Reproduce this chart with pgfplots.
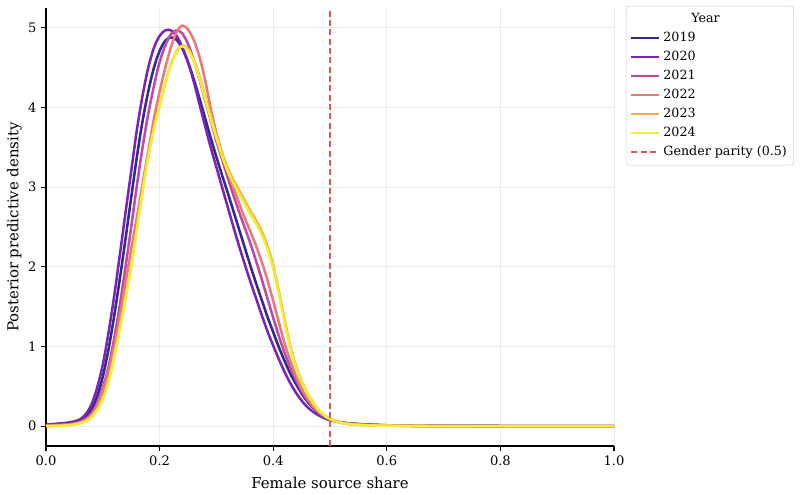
\documentclass[border=0pt]{standalone}
\usepackage{fontspec}
\setmainfont{DejaVu Serif}
\usepackage{pgfplots}
\usepackage{pgfplotstable}
\pgfplotsset{compat=1.18}
\definecolor{c19}{HTML}{2E2A8F}
\definecolor{c20}{HTML}{7B22B8}
\definecolor{c21}{HTML}{BE4AA2}
\definecolor{c22}{HTML}{E87A7A}
\definecolor{c23}{HTML}{F8AB4C}
\definecolor{c24}{HTML}{F0F032}
\definecolor{cpar}{HTML}{E85555}
\pgfplotstableread{
x y19 y20 y21 y22 y23 y24
0.00 0.015 0.02 0.01 0.005 0.0 0.0
0.02 0.025 0.03 0.015 0.01 0.004 0.003
0.04 0.04 0.045 0.025 0.02 0.012 0.01
0.05 0.05 0.06 0.035 0.03 0.022 0.02
0.06 0.07 0.085 0.055 0.045 0.038 0.035
0.07 0.12 0.15 0.09 0.08 0.065 0.06
0.08 0.21 0.27 0.16 0.14 0.12 0.11
0.09 0.37 0.48 0.29 0.26 0.21 0.20
0.10 0.62 0.77 0.48 0.44 0.35 0.34
0.11 0.96 1.17 0.74 0.69 0.57 0.55
0.12 1.38 1.63 1.10 1.00 0.88 0.86
0.13 1.85 2.15 1.52 1.38 1.24 1.22
0.14 2.35 2.68 2.00 1.80 1.62 1.60
0.15 2.87 3.20 2.50 2.22 2.01 1.99
0.16 3.38 3.72 3.02 2.62 2.49 2.47
0.17 3.83 4.15 3.50 3.04 2.96 2.95
0.18 4.20 4.50 3.92 3.45 3.39 3.38
0.19 4.50 4.75 4.27 3.86 3.74 3.73
0.20 4.71 4.90 4.57 4.20 4.03 4.02
0.21 4.84 4.97 4.78 4.50 4.31 4.30
0.22 4.88 4.97 4.92 4.76 4.54 4.53
0.23 4.85 4.90 4.97 4.95 4.71 4.70
0.24 4.74 4.76 4.93 5.03 4.78 4.77
0.25 4.57 4.57 4.80 4.98 4.74 4.72
0.26 4.36 4.33 4.60 4.85 4.60 4.58
0.27 4.12 4.05 4.36 4.64 4.40 4.37
0.28 3.87 3.77 4.10 4.35 4.15 4.12
0.29 3.62 3.50 3.84 3.99 3.90 3.86
0.30 3.38 3.25 3.58 3.68 3.66 3.62
0.31 3.15 3.00 3.35 3.42 3.43 3.39
0.32 2.93 2.75 3.12 3.20 3.24 3.20
0.33 2.70 2.50 2.90 3.00 3.09 3.05
0.34 2.47 2.26 2.69 2.80 2.96 2.92
0.35 2.24 2.03 2.49 2.61 2.83 2.79
0.36 2.01 1.81 2.29 2.44 2.70 2.66
0.37 1.79 1.60 2.07 2.26 2.58 2.54
0.38 1.58 1.39 1.84 2.06 2.44 2.40
0.39 1.37 1.19 1.60 1.83 2.26 2.22
0.40 1.18 1.01 1.36 1.57 2.02 1.98
0.41 0.99 0.84 1.13 1.30 1.69 1.65
0.42 0.82 0.68 0.92 1.04 1.34 1.30
0.43 0.66 0.54 0.74 0.82 1.01 0.98
0.44 0.53 0.42 0.58 0.63 0.76 0.74
0.45 0.41 0.32 0.44 0.47 0.57 0.56
0.46 0.31 0.24 0.33 0.35 0.42 0.41
0.47 0.23 0.18 0.24 0.25 0.30 0.29
0.48 0.17 0.135 0.17 0.18 0.205 0.20
0.49 0.12 0.10 0.12 0.125 0.135 0.135
0.50 0.085 0.075 0.085 0.088 0.09 0.09
0.52 0.045 0.045 0.045 0.045 0.04 0.04
0.55 0.025 0.025 0.022 0.02 0.015 0.015
0.60 0.01 0.01 0.008 0.007 0.005 0.005
0.65 0.004 0.004 0.003 0.002 0.002 0.002
0.70 0.002 0.002 0.001 0.001 0.0 0.0
0.80 0.001 0.001 0.0 0.0 0.0 0.0
0.90 0.0 0.0 0.0 0.0 0.0 0.0
1.00 0.0 0.0 0.0 0.0 0.0 0.0
}\dens
\begin{document}
\begin{tikzpicture}
\useasboundingbox (-34.5pt,-36pt) rectangle (570pt,334.5pt);
\begin{axis}[
  at={(0pt,0pt)}, anchor=south west,
  scale only axis, width=426pt, height=328.5pt,
  xmin=0, xmax=1, ymin=-0.25, ymax=5.25,
  axis lines=left,
  axis line style={-, black, line width=0.8pt},
  tick align=outside,
  major tick length=3.6pt,
  tick style={black, line width=0.8pt},
  xtick={0,0.2,0.4,0.6,0.8,1.0},
  ytick={0,1,2,3,4,5},
  xticklabel style={/pgf/number format/.cd, fixed, fixed zerofill, precision=1},
  /pgf/number format/assume math mode=true,
  tick label style={font=\fontsize{9.8}{11}\selectfont},
  label style={font=\fontsize{11.2}{13}\selectfont},
  xlabel={Female source share},
  ylabel={Posterior predictive density},
  xlabel style={yshift=-2pt},
  ylabel style={yshift=-2pt},
  grid=major,
  grid style={color=black!8, line width=0.75pt},
  legend style={at={(1.021,1.005)}, anchor=north west, draw=black!20,
    rounded corners=2pt, font=\fontsize{9.5}{11}\selectfont, row sep=1.7pt,
    inner xsep=3pt, inner ysep=3.5pt},
  legend cell align=left,
  legend image code/.code={\draw[#1] (0pt,0pt) -- (21pt,0pt);},
  every axis plot/.append style={line width=1.9pt, line join=round},
]
\addlegendimage{empty legend}
\addlegendentry{\hspace{21pt}Year}
\addplot[c19, smooth] table[x=x, y=y19] {\dens};
\addlegendentry{2019}
\addplot[c20, smooth] table[x=x, y=y20] {\dens};
\addlegendentry{2020}
\addplot[c21, smooth] table[x=x, y=y21] {\dens};
\addlegendentry{2021}
\addplot[c22, smooth] table[x=x, y=y22] {\dens};
\addlegendentry{2022}
\addplot[c23, smooth] table[x=x, y=y23] {\dens};
\addlegendentry{2023}
\addplot[c24, smooth] table[x=x, y=y24] {\dens};
\addlegendentry{2024}
\addplot[cpar, line width=1.2pt, dash pattern=on 4.5pt off 2.5pt] coordinates {(0.5,-0.25) (0.5,5.25)};
\addlegendentry{Gender parity (0.5)}
\end{axis}
\end{tikzpicture}
\end{document}
